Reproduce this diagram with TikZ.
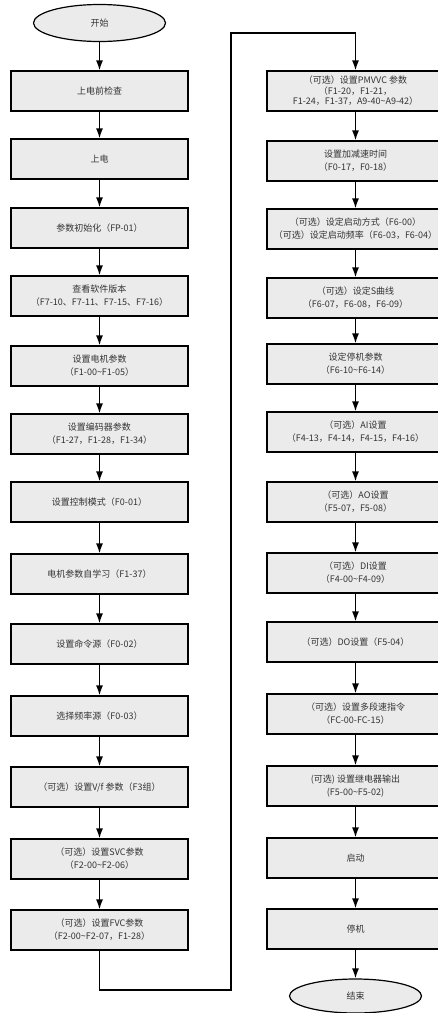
\documentclass[tikz,border=0pt]{standalone}
\usepackage{fontspec}
\setmainfont{Noto Sans CJK SC}
\usetikzlibrary{shapes.geometric,arrows.meta}
\definecolor{boxgray}{RGB}{235,235,235}
\newcommand{\til}{\textasciitilde}

\begin{document}
\begin{tikzpicture}
  [x=1pt, y=-1pt,
   procbox/.style={rectangle, fill=boxgray, draw=black, line width=1.2pt, minimum width=177pt, minimum height=40pt, inner sep=1pt, align=center, text=black!80, font=\fontsize{9}{13}\selectfont},
   terminal/.style={ellipse, fill=boxgray, draw=black, line width=1.2pt, minimum width=132pt, minimum height=37pt, inner sep=0pt, text=black!80, font=\fontsize{9}{13}\selectfont},
   link/.style={-{Latex[length=10pt,width=7pt]}, line width=1.4pt}]

  \useasboundingbox (0,0) rectangle (438,1013);

  % left column
  \node[terminal] (start) at (99.5,23) {开始};
  \node[procbox] (l1) at (99.5,91) {上电前检查};
  \node[procbox] (l2) at (99.5,159) {上电};
  \node[procbox] (l3) at (99.5,228) {参数初始化（FP-01）};
  \node[procbox] (l4) at (99.5,296) {查看软件版本\\（F7-10、F7-11、F7-15、F7-16）};
  \node[procbox] (l5) at (99.5,366) {设置电机参数\\（F1-00\til F1-05）};
  \node[procbox] (l6) at (99.5,434) {设置编码器参数\\（F1-27，F1-28，F1-34）};
  \node[procbox] (l7) at (99.5,502) {设置控制模式（F0-01）};
  \node[procbox] (l8) at (99.5,574) {电机参数自学习（F1-37）};
  \node[procbox] (l9) at (99.5,644) {设置命令源（F0-02）};
  \node[procbox] (l10) at (99.5,716) {选择频率源（F0-03）};
  \node[procbox] (l11) at (99.5,787) {（可选）设置V/f 参数（F3组）};
  \node[procbox] (l12) at (99.5,859) {（可选）设置SVC参数\\（F2-00\til F2-06）};
  \node[procbox] (l13) at (99.5,930) {（可选）设置FVC参数\\（F2-00\til F2-07，F1-28）};

  % right column
  \node[procbox, font=\fontsize{9}{10.5}\selectfont] (r1) at (355.5,91) {（可选）设置PMVVC 参数\\（F1-20，F1-21，\\F1-24，F1-37，A9-40\til A9-42）};
  \node[procbox] (r2) at (355.5,161) {设置加减速时间\\（F0-17，F0-18）};
  \node[procbox] (r3) at (355.5,229) {（可选）设定启动方式（F6-00）\\（可选）设定启动频率（F6-03，F6-04）};
  \node[procbox] (r4) at (355.5,298) {（可选）设定S曲线\\（F6-07，F6-08，F6-09）};
  \node[procbox] (r5) at (355.5,364) {设定停机参数\\（F6-10\til F6-14）};
  \node[procbox] (r6) at (355.5,432) {（可选）AI设置\\（F4-13，F4-14，F4-15，F4-16）};
  \node[procbox] (r7) at (355.5,502) {（可选）AO设置\\（F5-07，F5-08）};
  \node[procbox] (r8) at (355.5,573) {（可选）DI设置\\（F4-00\til F4-09）};
  \node[procbox] (r9) at (355.5,642) {（可选）DO设置（F5-04）};
  \node[procbox] (r10) at (355.5,714) {（可选）设置多段速指令\\（FC-00-FC-15）};
  \node[procbox] (r11) at (355.5,786) {(可选) 设置继电器输出\\(F5-00\til F5-02)};
  \node[procbox] (r12) at (355.5,858) {启动};
  \node[procbox] (r13) at (355.5,929) {停机};
  \node[terminal, minimum height=34pt] (stop) at (355.5,996) {结束};

  \foreach \from/\to in {start/l1,l1/l2,l2/l3,l3/l4,l4/l5,l5/l6,l6/l7,l7/l8,l8/l9,l9/l10,l10/l11,l11/l12,l12/l13,
                         r1/r2,r2/r3,r3/r4,r4/r5,r5/r6,r6/r7,r7/r8,r8/r9,r9/r10,r10/r11,r11/r12,r12/r13,r13/stop}
    \draw[link] (\from) -- (\to);

  % jump to the right column
  \coordinate (turn1) at (231,990);
  \coordinate (turn2) at (231,33);
  \draw[link] (l13.south) |- (turn1) -- (turn2) -| (r1.north);
\end{tikzpicture}
\end{document}
